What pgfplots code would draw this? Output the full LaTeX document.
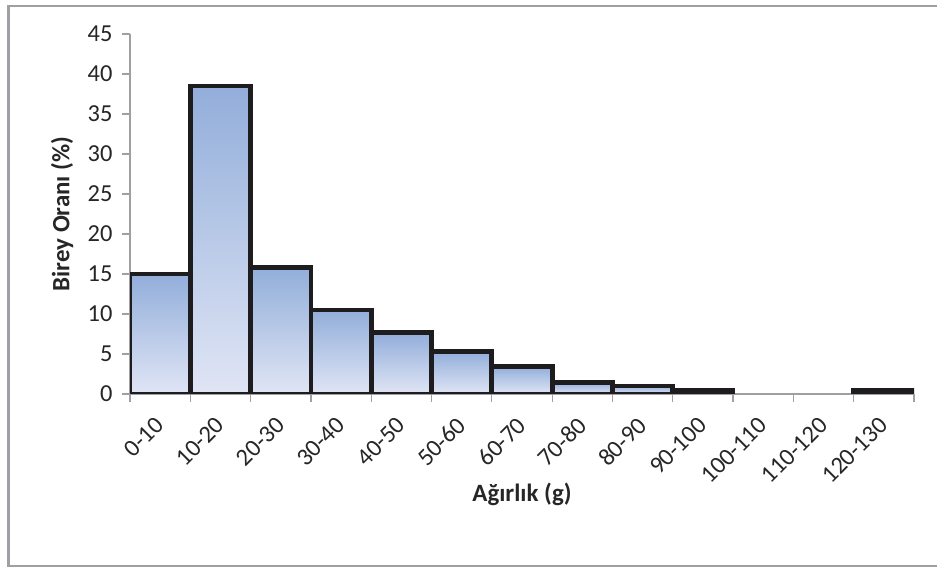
\documentclass[border=0pt]{standalone}
\usepackage{pgfplots}
\pgfplotsset{compat=1.18}
\usepackage{fontspec}
\setmainfont{Carlito}

\definecolor{axisgray}{RGB}{160,160,164}
\definecolor{framegray}{RGB}{160,160,164}
\definecolor{bartop}{RGB}{146,174,218}
\definecolor{barbottom}{RGB}{224,229,245}
\definecolor{baredge}{RGB}{30,28,30}

% one shaded bar per class, so every bar carries its own gradient
\pgfplotsset{histbar/.style={ybar, bar width=1, bar shift=0,
    draw=baredge, line width=4.8bp,
    top color=bartop, bottom color=barbottom}}

\begin{document}
\begin{tikzpicture}
  % page area and outer chart frame
  \useasboundingbox (0bp,0bp) rectangle (937bp,568bp);
  \begin{scope}
    \clip (0bp,0bp) rectangle (937bp,568bp);
    \draw[framegray, line width=2.2bp] (8.5bp,2bp) rectangle (960bp,562bp);
  \end{scope}

  \begin{axis}[
    at={(130bp,174bp)}, anchor=south west,
    scale only axis,
    width=784bp, height=360bp,
    xmin=0, xmax=13, ymin=0, ymax=45,
    axis x line*=bottom, axis y line*=left,
    axis line style={-, axisgray, line width=1.2bp},
    ytick={0,5,...,45},
    xtick={0.5,1.5,...,12.5},
    xticklabels={0-10,10-20,20-30,30-40,40-50,50-60,60-70,70-80,80-90,90-100,100-110,110-120,120-130},
    minor xtick={0,1,...,13},
    tick align=outside,
    major tick length=8bp,
    minor tick length=8bp,
    x tick style={draw=none},
    minor x tick style={draw=axisgray, line width=1.2bp},
    y tick style={draw=axisgray, line width=1.2bp},
    tick label style={font=\fontsize{24.5}{27}\selectfont, text=black!85},
    /pgf/number format/assume math mode=true,
    xticklabel style={xshift=-6bp, yshift=-12bp, rotate=45, anchor=north east, inner sep=1bp},
    yticklabel style={xshift=-6bp},
    every axis y label/.style={at={(axis description cs:-0.0867,0.5)}, rotate=90, anchor=center},
    every axis x label/.style={at={(axis description cs:0.5,-0.278)}, anchor=center},
    label style={font=\bfseries\fontsize{25}{28}\selectfont, text=black!85},
    ylabel={Birey Oranı (\%)},
    xlabel={Ağırlık (g)},
    clip=true,
  ]
    \addplot[histbar] coordinates {(0.5,15.0)};
    \addplot[histbar] coordinates {(1.5,38.5)};
    \addplot[histbar] coordinates {(2.5,15.8)};
    \addplot[histbar] coordinates {(3.5,10.5)};
    \addplot[histbar] coordinates {(4.5,7.65)};
    \addplot[histbar] coordinates {(5.5,5.3)};
    \addplot[histbar] coordinates {(6.5,3.4)};
    \addplot[histbar] coordinates {(7.5,1.45)};
    \addplot[histbar] coordinates {(8.5,1.0)};
    \addplot[histbar] coordinates {(9.5,0.5)};
    \addplot[histbar] coordinates {(12.5,0.45)};
  \end{axis}
\end{tikzpicture}
\end{document}
